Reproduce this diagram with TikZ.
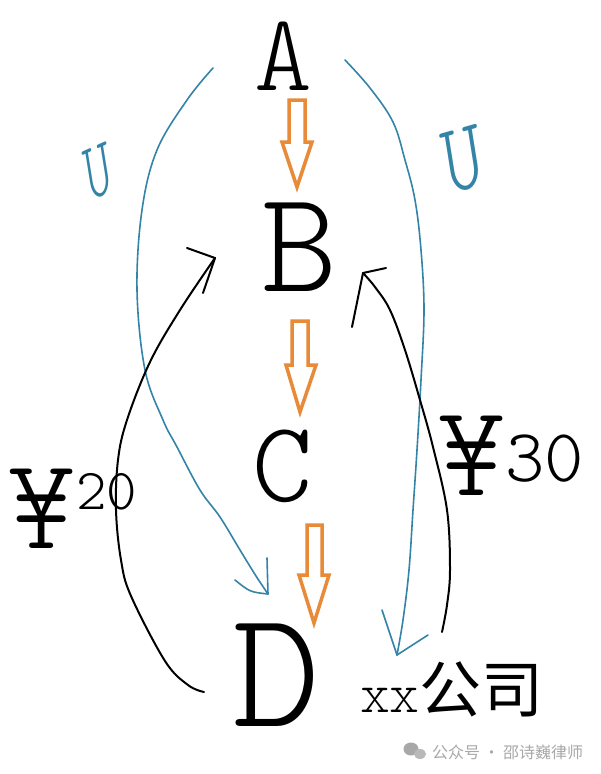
\documentclass[tikz,border=0pt]{standalone}
\usepackage{fontspec}
\newfontfamily\hand{lmmonolt10-regular.otf}
\newfontfamily\cjk{Noto Sans CJK SC}
\definecolor{arroworange}{RGB}{232,138,56}
\definecolor{penblue}{RGB}{52,132,168}
\definecolor{markgray}{RGB}{168,168,168}
\begin{document}
\begin{tikzpicture}[x=1pt,y=-1pt,
  letterbox/.style={inner sep=0pt, outer sep=0pt},
  pen/.style={line width=2pt, line cap=round, line join=round},
  blackpen/.style={pen, draw=black},
  bluepen/.style={pen, draw=penblue, line width=1.6pt},
  blockarrow/.style={draw=arroworange, line width=3.5pt, line join=miter}]
\useasboundingbox (0,0) rectangle (600,774);
\fill[white] (0,0) rectangle (600,774);

% letters
\node[letterbox, font=\hand\fontsize{110}{110}\selectfont] (A) at (283,56) {A};
\node[letterbox, font=\hand\fontsize{145}{145}\selectfont] (B) at (300,247) {B};
\node[letterbox, font=\hand\fontsize{115}{115}\selectfont] (C) at (283,466) {C};
\node[letterbox, font=\hand\fontsize{168}{168}\selectfont] (D) at (277,675) {D};

% money labels
\node[letterbox, anchor=base west] (y20) at (8,548)
  {{\hand\fontsize{130}{130}\selectfont ¥}\raisebox{39pt}{\hand\fontsize{58}{58}\selectfont 20}};
\node[letterbox, anchor=base west] (y30) at (437,495)
  {{\hand\fontsize{130}{130}\selectfont ¥}\raisebox{14pt}{\hand\fontsize{75}{75}\selectfont 30}};

% company
\node[letterbox, anchor=base west] (co) at (360,712)
  {{\hand\fontsize{57}{57}\selectfont xx}{\cjk\fontsize{62}{62}\selectfont 公司}};

% blue U marks
\node[letterbox, text=penblue, font=\hand\fontsize{83}{83}\selectfont,
  transform shape, xscale=0.6, rotate=15] (uL) at (98,172) {U};
\node[letterbox, text=penblue, font=\hand\fontsize{100}{100}\selectfont,
  transform shape, xscale=0.75, rotate=12] (uR) at (463,160) {U};

% orange block arrows
\draw[blockarrow] (289,100) -- (305,100) -- (305,142) -- (312,142) -- (297,187)
  -- (282,142) -- (289,142) -- cycle;
\draw[blockarrow] (292,321) -- (308,321) -- (308,365) -- (316,365) -- (300,412)
  -- (286,365) -- (292,365) -- cycle;
\draw[blockarrow] (307,525) -- (322,525) -- (322,575) -- (329,575) -- (314,623)
  -- (299,575) -- (307,575) -- cycle;

% blue connectors
\coordinate (blS) at (213,68);
\coordinate (blT) at (268,594);
\draw[bluepen] plot[smooth, tension=0.6] coordinates {(blS) (187,100) (157,150)
  (142,210) (137,290) (145,370) (163,420) (177,447) (200,490) (220,517) (240,550)
  (256,576) (blT)};
\draw[bluepen] (blT) -- (267,558);
\draw[bluepen] (blT) .. controls (250,592) .. (235,580);

\coordinate (brS) at (345,60);
\coordinate (brT) at (397,655);
\draw[bluepen] plot[smooth, tension=0.6] coordinates {(brS) (370,88) (393,122)
  (405,160) (415,200) (421,250) (424,310) (421,380) (417,450) (413,510) (409,570)
  (403,620) (brT)};
\draw[bluepen] (brT) -- (382,610);
\draw[bluepen] (brT) -- (428,635);

% black money connectors
\coordinate (kLS) at (204,692);
\coordinate (kLT) at (215,258);
\draw[blackpen] plot[smooth, tension=0.6] coordinates {(kLS) (188,685) (165,661)
  (131,596) (121,560) (116,510) (118,460) (127,420) (150,362) (180,310) (kLT)};
\draw[blackpen] (kLT) -- (187,248);
\draw[blackpen] (kLT) -- (203,293);

\coordinate (kRS) at (442,632);
\coordinate (kRT) at (363,273);
\draw[blackpen] plot[smooth, tension=0.6] coordinates {(kRT) (375,287) (390,310)
  (405,350) (420,400) (433,447) (447,510) (450,570) (447,605) (kRS)};
\draw[blackpen] (kRT) -- (386,268);
\draw[blackpen] (kRT) -- (352,327);

% watermark
\fill[markgray] (411,749) ellipse (7.5pt and 6.5pt);
\fill[markgray!80] (420,754) ellipse (6pt and 5pt);
\node[letterbox, anchor=west, text=markgray, font=\cjk\fontsize{16}{16}\selectfont]
  (wm) at (432,752) {公众号 · 邵诗巍律师};
\end{tikzpicture}
\end{document}
